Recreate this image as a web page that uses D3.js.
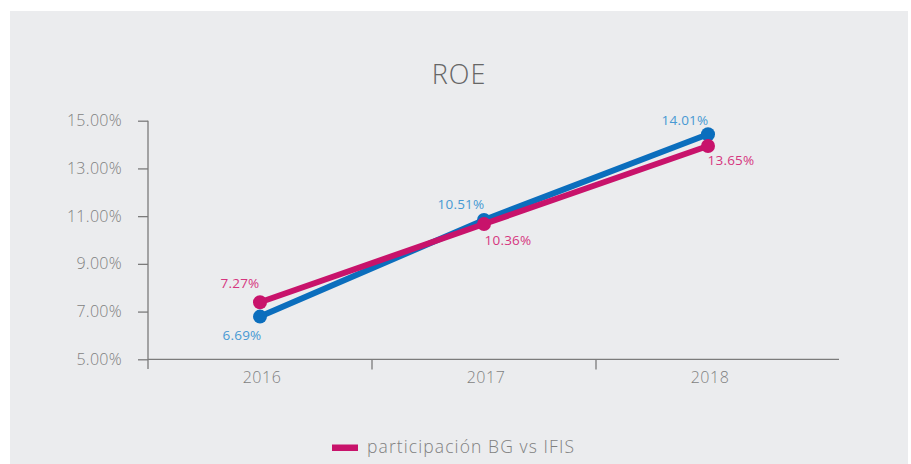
<!DOCTYPE html>
<html>
<head>
<meta charset="utf-8">
<script src="https://cdn.jsdelivr.net/npm/d3@7"></script>
<style>
  body { margin: 0; background: #ffffff; }
  svg text { font-family: "Open Sans", "Noto Sans", sans-serif; }
</style>
</head>
<body>
<svg id="chart" width="911" height="464"></svg>
<script>
// data
const years = ["2016", "2017", "2018"];
const yTicks = [5, 7, 9, 11, 13, 15];
// plotted positions (as drawn in the chart)
const blueValues = [6.79, 10.84, 14.43];
const pinkValues = [7.39, 10.67, 13.94];
// printed data labels
const blueLabels = ["6.69%", "10.51%", "14.01%"];
const pinkLabels = ["7.27%", "10.36%", "13.65%"];
const legendLabel = "participación BG vs IFIS";

const svg = d3.select('#chart');

// panel background
svg.append('rect')
  .attr('x', 10).attr('y', 11)
  .attr('width', 898).attr('height', 460)
  .attr('fill', '#ebecee');

// scales
const x = d3.scaleBand().domain(years).range([148, 820]);
const y = d3.scaleLinear().domain([5, 15]).range([359.3, 120.7]);

const axisColor = '#7b7b7b';
const textColor = '#7f7f7f';

// title
svg.append('text')
  .attr('x', 459).attr('y', 84)
  .attr('text-anchor', 'middle')
  .attr('font-size', 27)
  .attr('font-weight', 300)
  .attr('letter-spacing', 1)
  .attr('fill', '#666666')
  .text('ROE');

// y axis
const yAxis = svg.append('g')
  .attr('transform', 'translate(148,0)')
  .call(d3.axisLeft(y).tickValues(yTicks).tickSize(10).tickPadding(16)
    .tickFormat(d => d3.format('.2f')(d) + '%'));
yAxis.select('.domain').attr('stroke', axisColor).attr('stroke-width', 1.3)
  .attr('d', 'M0,120.7V369');
yAxis.selectAll('.tick line').attr('stroke', axisColor).attr('stroke-width', 1.3);
yAxis.selectAll('.tick text')
  .attr('font-size', 16).attr('font-weight', 300).attr('fill', textColor)
  .attr('letter-spacing', 0.3)
  .attr('font-family', '"Open Sans", sans-serif');

// x axis: line out to 839, ticks at band starts
svg.append('line')
  .attr('x1', 148).attr('x2', 839).attr('y1', 359.3).attr('y2', 359.3)
  .attr('stroke', axisColor).attr('stroke-width', 1.3);
svg.append('g').selectAll('line')
  .data(years.slice(1))
  .join('line')
    .attr('x1', d => x(d)).attr('x2', d => x(d))
    .attr('y1', 359.3).attr('y2', 369.5)
    .attr('stroke', axisColor).attr('stroke-width', 1.3);
svg.append('g').selectAll('text')
  .data(years)
  .join('text')
    .attr('x', d => x(d) + x.bandwidth() / 2 + 2)
    .attr('y', 383)
    .attr('text-anchor', 'middle')
    .attr('font-size', 16).attr('font-weight', 300)
    .attr('letter-spacing', 0.5)
    .attr('fill', textColor)
    .text(d => d);

// series
const series = [
  {values: blueValues, labels: blueLabels, color: '#0b6ebd', labelColor: '#4799d3',
   // label offsets (dx, dy) relative to each point
   offsets: [[-18, 23], [-23, -11], [-23, -9]]},
  {values: pinkValues, labels: pinkLabels, color: '#c8136b', labelColor: '#d6367f',
   offsets: [[-20, -14], [24, 21], [23, 19]]},
];

const cx = i => x(years[i]) + x.bandwidth() / 2;
const line = d3.line().x((d, i) => cx(i)).y(d => y(d));

series.forEach(s => {
  const g = svg.append('g');
  g.append('path')
    .attr('d', line(s.values))
    .attr('fill', 'none')
    .attr('stroke', s.color)
    .attr('stroke-width', 6);
  g.selectAll('circle')
    .data(s.values)
    .join('circle')
      .attr('cx', (d, i) => cx(i))
      .attr('cy', d => y(d))
      .attr('r', 7)
      .attr('fill', s.color);
});

// labels on top
series.forEach(s => {
  svg.append('g').selectAll('text')
    .data(s.values)
    .join('text')
      .attr('x', (d, i) => cx(i) + s.offsets[i][0])
      .attr('y', (d, i) => y(d) + s.offsets[i][1])
      .attr('text-anchor', 'middle')
      .attr('font-size', 13.5)
      .attr('letter-spacing', 0.2)
      .attr('fill', s.labelColor)
      .text((d, i) => s.labels[i]);
});

// legend
svg.append('rect')
  .attr('x', 332).attr('y', 444.5)
  .attr('width', 26).attr('height', 6.5)
  .attr('fill', '#c8136b');
svg.append('text')
  .attr('x', 367).attr('y', 452.5)
  .attr('font-size', 17.5).attr('font-weight', 300)
  .attr('letter-spacing', 1.1)
  .attr('fill', textColor)
  .text(legendLabel);
</script>
</body>
</html>
